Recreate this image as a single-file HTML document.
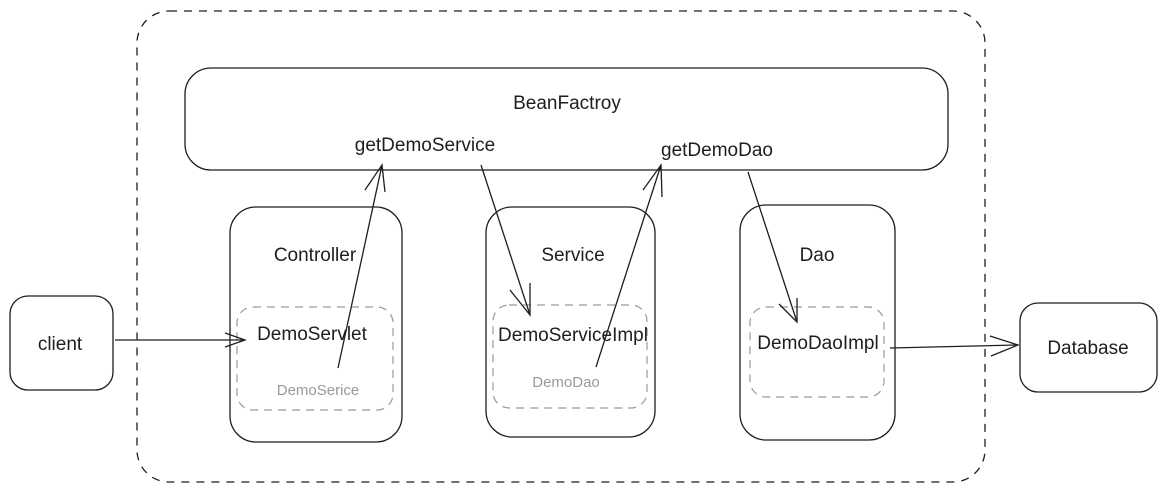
<!DOCTYPE html>
<html><head><meta charset="utf-8"><style>
html,body{margin:0;padding:0;background:#fff;}
svg{display:block;}
text{font-family:"Liberation Sans",sans-serif;font-size:19px;fill:#1e1e1e;text-anchor:middle;}
.g{fill:#999;font-size:15px;}
</style></head><body>
<svg width="1166" height="492" viewBox="0 0 1166 492" xmlns="http://www.w3.org/2000/svg">
<g fill="none" stroke="#1e1e1e" stroke-width="1.3">
<rect x="137" y="11" width="848" height="471" rx="32" stroke-dasharray="8 7"/>
<rect x="185" y="68" width="763" height="102" rx="26"/>
<rect x="230" y="207" width="172" height="235" rx="26"/>
<rect x="486" y="207" width="169" height="230" rx="26"/>
<rect x="740" y="205" width="155" height="235" rx="26"/>
<rect x="10" y="296" width="103" height="94" rx="18"/>
<rect x="1020" y="303" width="137" height="89" rx="18"/>
</g>
<g fill="none" stroke="#999" stroke-width="1.2" stroke-dasharray="8 6">
<rect x="237" y="307" width="156" height="103" rx="16"/>
<rect x="493" y="305" width="154" height="103" rx="16"/>
<rect x="750" y="307" width="134" height="90" rx="16"/>
</g>
<g fill="none" stroke="#1e1e1e" stroke-width="1.3">
<path d="M115 340 L245 340 M225 333 L245 340 L225 347"/>
<path d="M338 368 L382 165 M365 190 L382 165 L385 192"/>
<path d="M481 165 L530 315 M510 290 L530 315 L530 283"/>
<path d="M596 367 L661 165 M643 190 L661 165 L662 197"/>
<path d="M748 172 L797 322 M779 304 L797 322 L797 298"/>
<path d="M890 348 L1018 345 M990 336 L1018 345 L991 356"/>
</g>
<text x="567" y="109">BeanFactroy</text>
<text x="425" y="151">getDemoService</text>
<text x="717" y="156">getDemoDao</text>
<text x="315" y="261">Controller</text>
<text x="312" y="340">DemoServlet</text>
<text x="318" y="395" class="g">DemoSerice</text>
<text x="573" y="261">Service</text>
<text x="573" y="341">DemoServiceImpl</text>
<text x="566" y="387" class="g">DemoDao</text>
<text x="817" y="261">Dao</text>
<text x="818" y="349">DemoDaoImpl</text>
<text x="60" y="350">client</text>
<text x="1088" y="354">Database</text>
</svg>
</body></html>
